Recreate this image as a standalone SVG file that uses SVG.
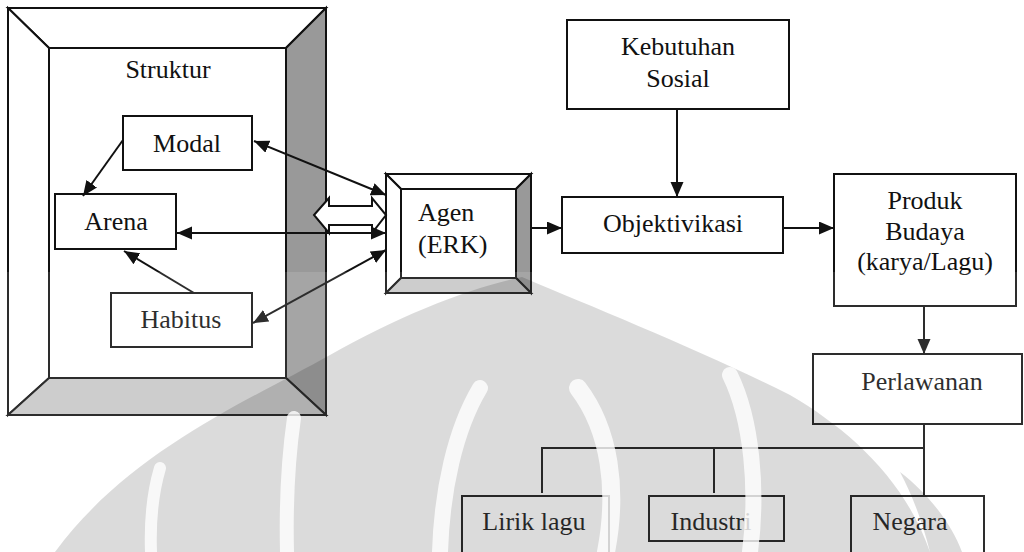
<svg xmlns="http://www.w3.org/2000/svg" width="1024" height="552" viewBox="0 0 1024 552">
<style>
.box{fill:#fff;stroke:#111;stroke-width:2}
.bev{stroke:#111;stroke-width:2;stroke-linejoin:miter}
.dark{fill:#999}
.light{fill:#c6c6c6}
.white{fill:#fff}
text{font-size:26px;fill:#111}
.c{text-anchor:middle}
.ln{stroke:#111;stroke-width:2;fill:none}
.wm{fill:#000;fill-opacity:0.14}
.ws{stroke:#fff;stroke-opacity:0.8;fill:none;stroke-linecap:round}
</style>
<defs>
<marker id="ah" markerUnits="userSpaceOnUse" markerWidth="16" markerHeight="14" refX="15" refY="6.5" orient="auto-start-reverse">
<path d="M0,0 L15,6.5 L0,13 Z" fill="#111"/>
</marker>
</defs>
<rect width="1024" height="552" fill="#fff"/>

<g id="struktur">
<polygon class="bev white" points="8,8 326,8 286,48 49,48"/>
<polygon class="bev white" points="8,8 49,48 49,378 8,415"/>
<polygon class="bev dark" points="326,8 326,415 286,378 286,48"/>
<polygon class="bev light" points="8,415 49,378 286,378 326,415"/>
<rect class="box" x="49" y="48" width="237" height="330"/>
<text class="c" x="168" y="78" style="font-family:'Liberation Serif',serif">Struktur</text>
</g>

<g id="modal">
<rect class="box" x="123" y="116" width="129" height="54"/>
<text class="c" x="187" y="152" style="font-family:'Liberation Serif',serif">Modal</text>
</g>
<g id="arena">
<rect class="box" x="55" y="194" width="121" height="55"/>
<text class="c" x="116" y="230" style="font-family:'Liberation Serif',serif">Arena</text>
</g>
<g id="habitus">
<rect class="box" x="111" y="293" width="141" height="54"/>
<text class="c" x="181" y="328" style="font-family:'Liberation Serif',serif">Habitus</text>
</g>

<g id="agen">
<polygon class="bev white" points="386,174 531,174 516,189 401,189"/>
<polygon class="bev white" points="386,174 401,189 401,278 386,293"/>
<polygon class="bev dark" points="531,174 531,293 516,278 516,189"/>
<polygon class="bev light" points="386,293 401,278 516,278 531,293"/>
<rect class="box" x="401" y="189" width="115" height="89"/>
<text x="418" y="221" style="font-family:'Liberation Serif',serif">Agen</text>
<text x="418" y="253" style="font-family:'Liberation Serif',serif">(ERK)</text>
</g>

<g id="kebutuhan">
<rect class="box" x="567" y="20" width="222" height="89"/>
<text class="c" x="678" y="55" style="font-family:'Liberation Serif',serif">Kebutuhan</text>
<text class="c" x="678" y="87" style="font-family:'Liberation Serif',serif">Sosial</text>
</g>
<g id="objektivikasi">
<rect class="box" x="562" y="197" width="221" height="56"/>
<text class="c" x="673" y="232" style="font-family:'Liberation Serif',serif">Objektivikasi</text>
</g>
<g id="produk">
<rect class="box" x="834" y="174" width="182" height="132"/>
<text class="c" x="925" y="209" style="font-family:'Liberation Serif',serif">Produk</text>
<text class="c" x="925" y="240" style="font-family:'Liberation Serif',serif">Budaya</text>
<text class="c" x="925" y="270" style="font-family:'Liberation Serif',serif">(karya/Lagu)</text>
</g>
<g id="perlawanan">
<rect class="box" x="813" y="354" width="209" height="70"/>
<text class="c" x="922" y="390" style="font-family:'Liberation Serif',serif">Perlawanan</text>
</g>
<g id="lirik">
<rect class="box" x="462" y="496" width="147" height="70"/>
<text class="c" x="534" y="530" style="font-family:'Liberation Serif',serif">Lirik lagu</text>
</g>
<g id="industri">
<rect class="box" x="649" y="496" width="135" height="45"/>
<text class="c" x="711" y="530" style="font-family:'Liberation Serif',serif">Industri</text>
</g>
<g id="negara">
<rect class="box" x="851" y="496" width="133" height="70"/>
<text class="c" x="910" y="530" style="font-family:'Liberation Serif',serif">Negara</text>
</g>

<g id="connectors">
<line class="ln" x1="123" y1="140" x2="83" y2="196" marker-end="url(#ah)"/>
<line class="ln" x1="194" y1="293" x2="124" y2="251" marker-end="url(#ah)"/>
<polygon points="314,215 329,198 329,206 372,206 372,198 386,215 372,233 372,225 329,225 329,233" fill="#fff" stroke="#111" stroke-width="2"/>
<line class="ln" x1="254" y1="141" x2="386" y2="195" marker-start="url(#ah)" marker-end="url(#ah)"/>
<line class="ln" x1="177" y1="233" x2="386" y2="233" marker-start="url(#ah)" marker-end="url(#ah)"/>
<line class="ln" x1="253" y1="323" x2="386" y2="250" marker-start="url(#ah)" marker-end="url(#ah)"/>
<line class="ln" x1="531" y1="228" x2="562" y2="228" marker-end="url(#ah)"/>
<line class="ln" x1="677" y1="109" x2="677" y2="197" marker-end="url(#ah)"/>
<line class="ln" x1="783" y1="228" x2="834" y2="228" marker-end="url(#ah)"/>
<line class="ln" x1="924" y1="306" x2="924" y2="354" marker-end="url(#ah)"/>
<polyline class="ln" points="924,424 924,496"/>
<polyline class="ln" points="542,493 542,448 924,448"/>
<line class="ln" x1="714" y1="448" x2="714" y2="493"/>
</g>

<g id="watermark">
<rect x="0" y="272" width="1024" height="280" fill="#fff" fill-opacity="0.12"/>
<path class="wm" d="M522,277 C600,310 700,350 790,395 C850,430 905,480 930,552 L55,552 C130,450 250,400 330,355 C400,315 470,288 522,277 Z"/>
<path class="wm" d="M900,472 C930,495 952,525 962,552 L930,552 C922,520 912,495 900,472 Z"/>
<path class="ws" stroke-width="12" d="M160,468 C152,495 150,525 151,552"/>
<path class="ws" stroke-width="14" d="M294,418 C288,460 286,510 287,552"/>
<path class="ws" stroke-width="16" d="M480,388 C455,430 442,490 440,552"/>
<path class="ws" stroke-width="18" d="M578,388 C610,430 618,490 606,552"/>
<path class="ws" stroke-width="16" d="M730,375 C752,420 758,490 750,552"/>
</g>
</svg>
